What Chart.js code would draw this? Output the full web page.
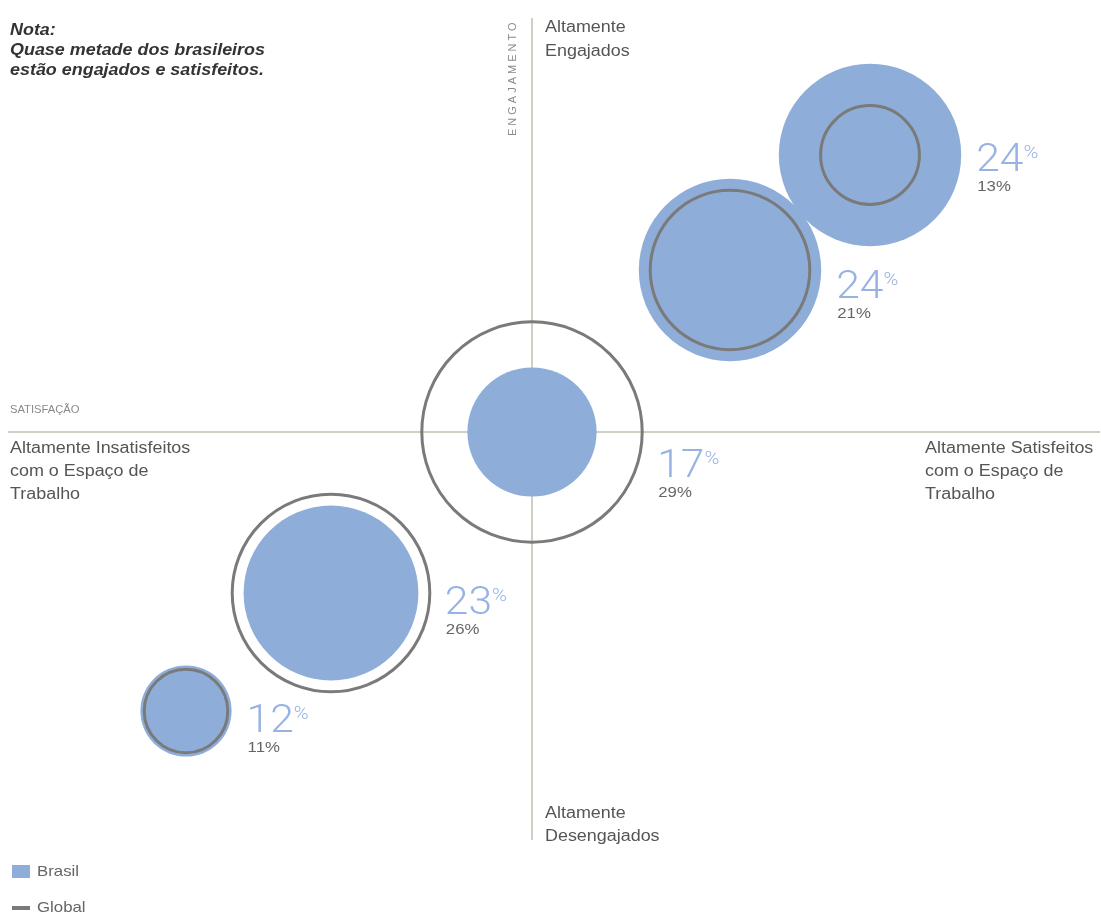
<!DOCTYPE html>
<html>
<head>
<meta charset="UTF-8">
<title>Engajamento e satisfação com o espaço de trabalho</title>
<style>
  body { margin: 0; background: #fff; }
  #wrap { position: relative; width: 1101px; height: 916px; }
</style>
</head>
<body>
<div id="wrap"><canvas id="grafico"></canvas></div>

<script src="https://cdn.jsdelivr.net/npm/chart.js@4/dist/chart.umd.min.js"></script>
<script>
  // posição de cada grupo: satisfação (x) e engajamento (y)
  var satisfacao = [-3.46, -2.01, 0, 1.98, 3.38];
  var engajamento = [-2.79, -1.61, 0, 1.62, 2.77];
  // percentual de pessoas em cada grupo
  var brasil = [12, 23, 17, 24, 24];
  var global = [11, 26, 29, 21, 13];

  var azul = '#8eaed9';
  var cinza = '#7a7a7a';
  var pxPorPonto = 3.8;                   // raio do círculo por ponto percentual
  var baseRotulo = [21, 21, 45, 28, 16];  // deslocamento vertical do rótulo
  var largura = 1.12;                     // fonte um pouco mais larga

  var pontos = function(valores) {
    return valores.map(function(v, i) {
      return { x: satisfacao[i], y: engajamento[i], v: v };
    });
  };

  // escreve texto esticado na horizontal, devolve a largura
  var escreve = function(ctx, t, x, y) {
    ctx.save();
    ctx.translate(x, y);
    ctx.scale(largura, 1);
    ctx.fillText(t, 0, 0);
    var w = ctx.measureText(t).width * largura;
    ctx.restore();
    return w;
  };

  // linhas dos eixos cruzando no zero
  var eixos = {
    id: 'eixos',
    beforeDatasetsDraw: function(chart) {
      var ctx = chart.ctx, a = chart.chartArea;
      var x0 = chart.scales.x.getPixelForValue(0);
      var y0 = chart.scales.y.getPixelForValue(0);
      ctx.save();
      ctx.strokeStyle = '#cfcfc4';
      ctx.lineWidth = 2;
      ctx.beginPath();
      ctx.moveTo(a.left, y0); ctx.lineTo(a.right, y0);
      ctx.moveTo(x0, a.top); ctx.lineTo(x0, a.bottom);
      ctx.stroke();
      ctx.restore();
    }
  };

  // percentuais ao lado de cada par de círculos
  var rotulos = {
    id: 'rotulos',
    afterDatasetsDraw: function(chart) {
      var ctx = chart.ctx;
      var pts = chart.getDatasetMeta(1).data;
      ctx.save();
      ctx.textBaseline = 'alphabetic';
      ctx.textAlign = 'left';
      pts.forEach(function(p, i) {
        var r = Math.max(brasil[i], global[i]) * pxPorPonto;
        var x = p.x + r + 15;
        var y = p.y + baseRotulo[i];
        ctx.fillStyle = '#97b3e3';
        ctx.font = '300 38px Roboto';
        var w = escreve(ctx, String(brasil[i]), x, y);
        ctx.font = '300 18px Roboto';
        escreve(ctx, '%', x + w, y - 13);
        ctx.fillStyle = '#666';
        ctx.font = '15px "Liberation Sans"';
        escreve(ctx, global[i] + '%', x + 1, y + 20);
      });
      ctx.restore();
    }
  };

  // textos dos quadrantes, nota e legenda
  var textos = {
    id: 'textos',
    afterDraw: function(chart) {
      var ctx = chart.ctx;
      var linhas = function(lista, x, y, passo) {
        lista.forEach(function(t, i) { escreve(ctx, t, x, y + i * passo); });
      };
      ctx.save();
      ctx.textBaseline = 'middle';
      ctx.textAlign = 'left';

      ctx.fillStyle = '#333';
      ctx.font = 'italic bold 16px "Liberation Sans"';
      linhas(['Nota:', 'Quase metade dos brasileiros', 'estão engajados e satisfeitos.'], 10, 31, 20);

      ctx.fillStyle = '#555';
      ctx.font = '16px "Liberation Sans"';
      linhas(['Altamente', 'Engajados'], 545, 28, 24);
      linhas(['Altamente Insatisfeitos', 'com o Espaço de', 'Trabalho'], 10, 449, 23);
      linhas(['Altamente Satisfeitos', 'com o Espaço de', 'Trabalho'], 925, 449, 23);
      linhas(['Altamente', 'Desengajados'], 545, 814, 23);

      ctx.fillStyle = '#8a8a8a';
      ctx.font = '10px "Liberation Sans"';
      escreve(ctx, 'SATISFAÇÃO', 10, 410);
      ctx.save();
      ctx.translate(513, 136);
      ctx.rotate(-Math.PI / 2);
      ctx.letterSpacing = '3px';
      ctx.font = '11px "Liberation Sans"';
      ctx.fillText('ENGAJAMENTO', 0, 0);
      ctx.restore();

      // legenda
      ctx.fillStyle = azul;
      ctx.fillRect(12, 865, 18, 13);
      ctx.fillStyle = cinza;
      ctx.fillRect(12, 906, 18, 4);
      ctx.fillStyle = '#666';
      ctx.font = '15px "Liberation Sans"';
      escreve(ctx, 'Brasil', 37, 872);
      escreve(ctx, 'Global', 37, 908);
      ctx.restore();
    }
  };

  var chart = new Chart(document.getElementById('grafico'), {
    type: 'bubble',
    data: {
      datasets: [
        {
          label: 'Global',
          data: pontos(global),
          backgroundColor: 'rgba(0,0,0,0)',
          borderColor: cinza,
          borderWidth: 3,
          order: 1
        },
        {
          label: 'Brasil',
          data: pontos(brasil),
          backgroundColor: azul,
          borderWidth: 0,
          order: 2
        }
      ]
    },
    options: {
      responsive: true,
      maintainAspectRatio: false,
      animation: false,
      events: [],
      layout: {
        autoPadding: false,
        padding: { left: 8, right: 1, top: 18, bottom: 76 }
      },
      elements: {
        point: {
          radius: function(c) { return c.raw ? c.raw.v * pxPorPonto : 0; }
        }
      },
      scales: {
        x: { type: 'linear', display: false, min: -5.24, max: 5.68 },
        y: { type: 'linear', display: false, min: -4.08, max: 4.14 }
      },
      plugins: {
        legend: { display: false },
        tooltip: { enabled: false }
      }
    },
    plugins: [eixos, rotulos, textos]
  });
</script>
</body>
</html>
